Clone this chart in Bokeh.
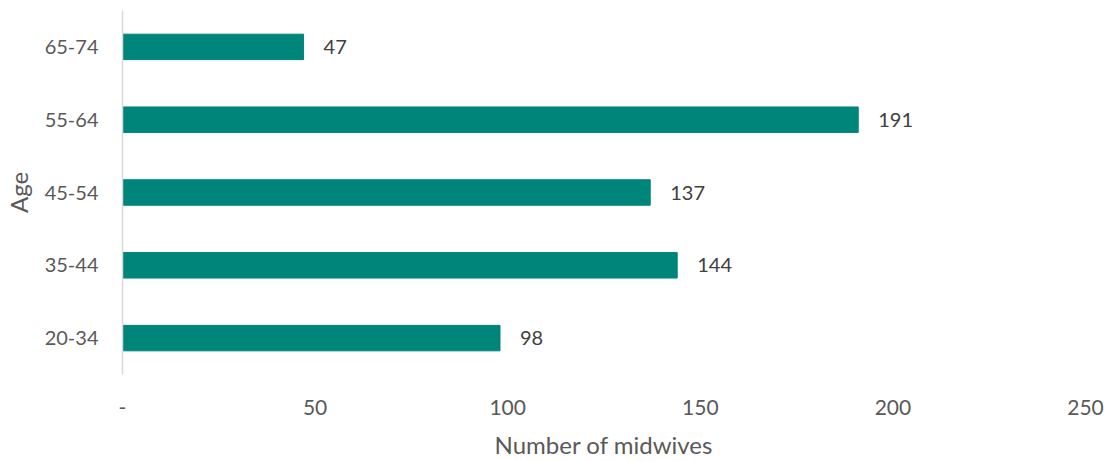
from bokeh.plotting import figure
from bokeh.models import ColumnDataSource, Range1d, FixedTicker
from bokeh.core.properties import value
from bokeh.embed import file_html
from bokeh.resources import INLINE

categories = ["20-34", "35-44", "45-54", "55-64", "65-74"]
counts = [98, 144, 137, 191, 47]
x_ticks = [0, 50, 100, 150, 200, 250]
x_title = "Number of midwives"
y_title = "Age"

FONT = "Lato"
COLOR = "#00857A"

src = ColumnDataSource(dict(cat=categories, val=counts, lab=[str(v) for v in counts]))

p = figure(width=1110, height=461, y_range=categories, x_range=Range1d(0, 250),
           output_backend="svg", toolbar_location=None,
           min_border_left=121, min_border_right=25, min_border_top=10, min_border_bottom=83)
p.outline_line_color = None
p.grid.grid_line_color = None
p.background_fill_color = "white"
p.border_fill_color = "white"

p.hbar(y="cat", right="val", left=0, height=0.35, source=src, fill_color=COLOR, line_color=COLOR)
p.text(x="val", y="cat", text="lab", source=src, x_offset=20, text_baseline="middle",
       text_align="left", text_font=value(FONT), text_font_size="20px", text_color="#404040")

xa = p.xaxis[0]
xa.ticker = FixedTicker(ticks=x_ticks)
xa.major_label_overrides = {0: "-"}
xa.axis_line_color = None
xa.major_tick_line_color = None
xa.minor_tick_line_color = None
xa.major_tick_out = 0
xa.major_tick_in = 0
xa.minor_tick_out = 0
xa.minor_tick_in = 0
xa.major_label_text_font = FONT
xa.major_label_text_font_size = "21px"
xa.major_label_text_color = "#595959"
xa.major_label_standoff = 25
xa.axis_label = x_title
xa.axis_label_text_font = FONT
xa.axis_label_text_font_size = "24px"
xa.axis_label_text_font_style = "normal"
xa.axis_label_text_color = "#595959"
xa.axis_label_standoff = 12

ya = p.yaxis[0]
ya.axis_line_color = "#d9d9d9"
ya.axis_line_width = 1.5
ya.major_tick_line_color = None
ya.minor_tick_line_color = None
ya.major_tick_out = 0
ya.major_tick_in = 0
ya.minor_tick_out = 0
ya.minor_tick_in = 0
ya.major_label_text_font = FONT
ya.major_label_text_font_size = "20px"
ya.major_label_text_color = "#595959"
ya.major_label_standoff = 24
ya.axis_label = y_title
ya.axis_label_text_font = FONT
ya.axis_label_text_font_size = "24px"
ya.axis_label_text_font_style = "normal"
ya.axis_label_text_color = "#595959"
ya.axis_label_standoff = 9

open("out.html", "w").write(file_html(p, INLINE))
